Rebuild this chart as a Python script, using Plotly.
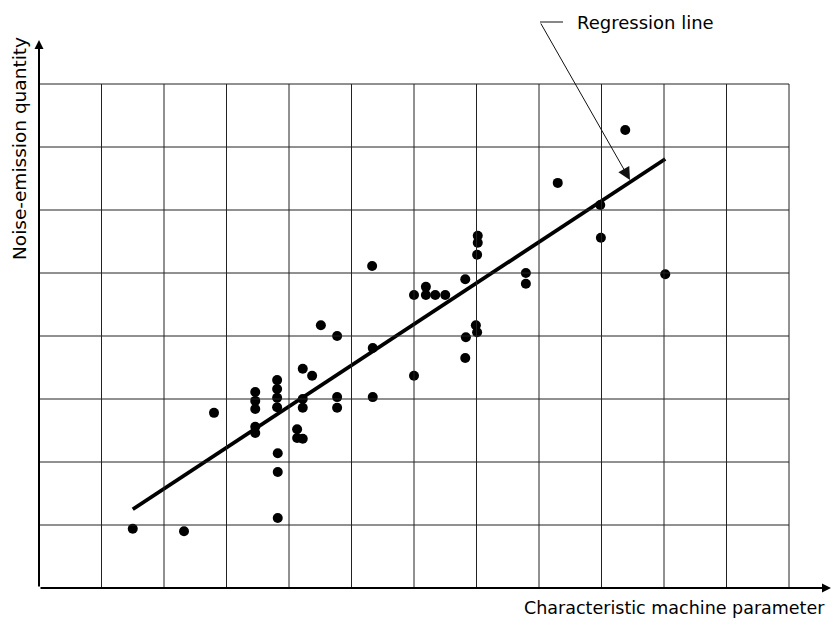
import plotly.graph_objects as go

# ---- data (grid units: 12 columns x 8 rows) ----
x_vals = [1.50, 2.32, 2.80,
          3.46, 3.46, 3.46, 3.46, 3.46,
          3.81, 3.81, 3.81, 3.81, 3.82, 3.82, 3.82,
          4.22, 4.37, 4.22, 4.22, 4.13, 4.13, 4.22,
          4.51, 4.77, 4.77, 4.77,
          5.33, 5.34, 5.34,
          6.00, 6.19, 6.19, 6.34, 6.50, 6.00,
          6.82, 7.01, 7.02, 7.02, 6.99, 7.01, 6.83, 6.82,
          7.79, 7.79, 8.30, 8.98, 8.99, 9.38, 10.02]
y_vals = [0.94, 0.90, 2.78,
          3.11, 2.97, 2.84, 2.56, 2.46,
          3.30, 3.16, 3.02, 2.87, 2.14, 1.84, 1.11,
          3.48, 3.37, 3.00, 2.86, 2.52, 2.38, 2.37,
          4.17, 4.00, 3.03, 2.86,
          5.11, 3.81, 3.03,
          4.65, 4.78, 4.65, 4.65, 4.65, 3.37,
          4.90, 5.29, 5.59, 5.48, 4.17, 4.06, 3.98, 3.65,
          5.00, 4.83, 6.43, 6.08, 5.56, 7.27, 4.98]
reg_x = [1.50, 10.02]
reg_y = [1.25, 6.81]
grid_x = list(range(0, 13))
grid_y = list(range(0, 9))
x_label = "Characteristic machine parameter"
y_label = "Noise-emission quantity"
reg_label = "Regression line"

# pixel geometry of the figure
PX_X0, PX_Y0 = 39.0, 588.0     # origin in pixels
CELL_W, CELL_H = 62.5, 63.0
W, H = 832, 624
xr = [(0 - PX_X0) / CELL_W, (W - PX_X0) / CELL_W]
yr = [(PX_Y0 - H) / CELL_H, (PX_Y0 - 0) / CELL_H]

def px2x(p):
    return (p - PX_X0) / CELL_W

def px2y(p):
    return (PX_Y0 - p) / CELL_H

fig = go.Figure()

shapes = []
gx_max, gy_max = grid_x[-1], grid_y[-1]
for gx in grid_x[1:]:
    shapes.append(dict(type="line", x0=gx, x1=gx, y0=0, y1=gy_max,
                       line=dict(color="#222", width=1)))
for gy in grid_y[1:]:
    shapes.append(dict(type="line", x0=0, x1=gx_max, y0=gy, y1=gy,
                       line=dict(color="#222", width=1)))
# leader horizontal tick
shapes.append(dict(type="line", x0=px2x(540), x1=px2x(563), y0=px2y(22), y1=px2y(22),
                   line=dict(color="#111", width=1)))

fig.add_trace(go.Scatter(x=reg_x, y=reg_y, mode="lines",
                         line=dict(color="black", width=3.8), hoverinfo="skip"))
fig.add_trace(go.Scatter(x=x_vals, y=y_vals, mode="markers",
                         marker=dict(color="black", size=10, line=dict(width=0))))

label_font = "DejaVu Sans, Liberation Sans, sans-serif"
annotations = [
    # y axis with arrow
    dict(x=0, y=px2y(40), ax=0, ay=0, xref="x", yref="y", axref="x", ayref="y",
         text="", showarrow=True, arrowhead=2, arrowsize=0.9, arrowwidth=2, arrowcolor="black"),
    # x axis with arrow
    dict(x=px2x(831), y=0, ax=0, ay=0, xref="x", yref="y", axref="x", ayref="y",
         text="", showarrow=True, arrowhead=2, arrowsize=0.9, arrowwidth=2, arrowcolor="black"),
    # leader to regression line
    dict(x=px2x(630), y=px2y(180), ax=px2x(540), ay=px2y(22),
         xref="x", yref="y", axref="x", ayref="y",
         text="", showarrow=True, arrowhead=2, arrowsize=2.5, arrowwidth=1, arrowcolor="#111"),
    dict(x=px2x(575), y=px2y(22), xref="x", yref="y", text=reg_label, showarrow=False,
         xanchor="left", yanchor="middle",
         font=dict(family=label_font, size=18, color="black")),
    dict(x=px2x(522), y=px2y(608), xref="x", yref="y", text=x_label, showarrow=False,
         xanchor="left", yanchor="middle",
         font=dict(family=label_font, size=17.5, color="black")),
    dict(x=px2x(19), y=px2y(149), xref="x", yref="y", text=y_label, showarrow=False,
         xanchor="center", yanchor="middle", textangle=-90,
         font=dict(family=label_font, size=18.5, color="black")),
]

fig.update_layout(
    width=W, height=H,
    margin=dict(l=0, r=0, t=0, b=0),
    paper_bgcolor="white", plot_bgcolor="white",
    showlegend=False,
    shapes=shapes,
    annotations=annotations,
    xaxis=dict(range=xr, visible=False, fixedrange=True),
    yaxis=dict(range=yr, visible=False, fixedrange=True),
)

fig.write_html("out.html")
